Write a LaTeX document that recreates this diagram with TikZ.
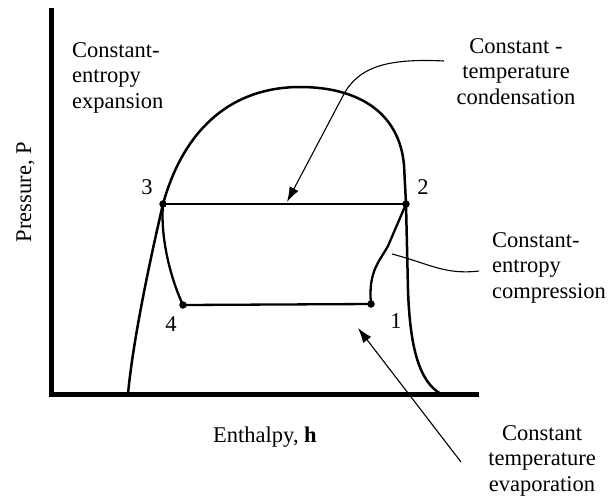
\documentclass[tikz,border=0pt]{standalone}
\usepackage{fontspec}
\setmainfont{Liberation Serif}
\usetikzlibrary{arrows.meta}
\tikzset{
  lbl/.style={inner sep=0pt, font=\fontsize{22.5}{25.5}\selectfont},
  axisline/.style={line width=5pt},
  domeline/.style={line width=2.5pt, line join=round},
  cycleline/.style={line width=2.3pt, line join=round},
  leader/.style={line width=1.1pt},
  leaderarrow/.style={line width=1.1pt, -{Latex[length=15pt,width=10pt]}},
  statedot/.style={circle, fill=black, inner sep=0pt, minimum size=7.5pt},
}
\begin{document}
\begin{tikzpicture}[x=1pt,y=-1pt]
\useasboundingbox (0,0) rectangle (612,499);
% axes
\coordinate (ytop) at (51,8);
\coordinate (origin) at (51,394);
\coordinate (xend) at (479,394);
\draw[axisline] (ytop) -- (origin) -- (xend);
% saturation dome
\coordinate (dl) at (128,394);
\coordinate (dr) at (441,394);
\coordinate (p1) at (371,304);
\coordinate (p2) at (406,204);
\coordinate (p3) at (163,204);
\coordinate (p4) at (183,305);
\draw[domeline] (dl) .. controls (133,340) and (150,260) .. (p3)
  .. controls (185,125) and (235,87) .. (300,87)
  .. controls (355,87) and (399,110) .. (404,165) -- (p2)
  -- (408,290) .. controls (410,350) and (420,382) .. (dr);
% cycle
\draw[cycleline] (p3) -- (p2);
\draw[cycleline] (p3) .. controls (160,240) and (172,282) .. (p4) -- (p1);
\draw[cycleline] (p1) .. controls (368,272) and (379,262) .. (388,246) -- (p2);
\node[statedot] (d1) at (p1) {};
\node[statedot] (d2) at (p2) {};
\node[statedot] (d3) at (p3) {};
\node[statedot] (d4) at (p4) {};
% point labels
\node[lbl] (n3) at (147,187) {3};
\node[lbl] (n2) at (423,187) {2};
\node[lbl] (n4) at (171,324) {4};
\node[lbl] (n1) at (396,321) {1};
% axis labels
\node[lbl, anchor=base, rotate=90] (ylab) at (31,192) {Pressure, P};
\node[lbl, anchor=base west] (xlab) at (213,442) {Enthalpy, \textbf{h}};
% process labels
\node[lbl, anchor=north west, align=left] (expn) at (72,42) {Constant-\\entropy\\expansion};
\node[lbl, anchor=north, align=center] (cond) at (516,38) {Constant -\\temperature\\condensation};
\node[lbl, anchor=north west, align=left] (comp) at (492,232) {Constant-\\entropy\\compression};
\node[lbl, anchor=north, align=center] (evap) at (542,425) {Constant\\temperature\\evaporation};
% leaders
\coordinate (condstart) at (444,61);
\coordinate (condtip) at (287,202);
\draw[leaderarrow] (condstart) .. controls (385,58) and (360,68) .. (345,92) -- (condtip);
\coordinate (compstart) at (479,271);
\coordinate (compend) at (392,254);
\draw[leader] (compstart) .. controls (445,275) and (430,264) .. (compend);
\coordinate (evapstart) at (461,462);
\coordinate (evaptip) at (358,328);
\draw[leaderarrow] (evapstart) -- (evaptip);
\end{tikzpicture}
\end{document}
